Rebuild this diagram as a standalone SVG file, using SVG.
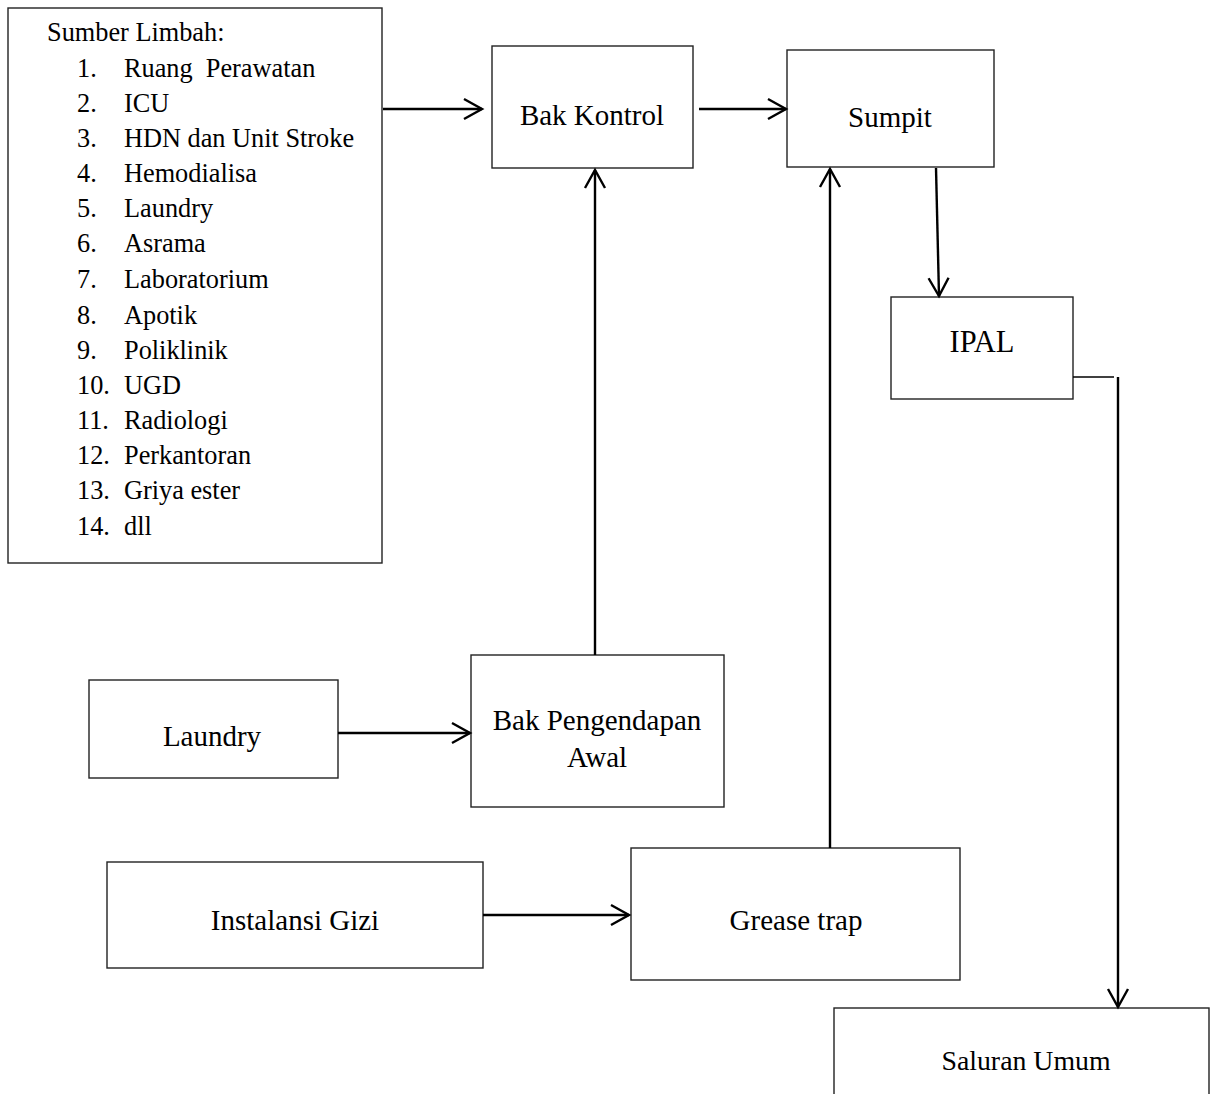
<svg xmlns="http://www.w3.org/2000/svg" width="1216" height="1094" viewBox="0 0 1216 1094">
<style>
.box{fill:#fff;stroke:#222;stroke-width:1.4}
text{font-family:"Liberation Serif","Times New Roman",serif;font-size:26.3px;fill:#000}
.c{text-anchor:middle;font-size:29px}
.ln{fill:none;stroke:#000;stroke-width:2.4}
</style>
<defs>
<marker id="ah" markerWidth="24" markerHeight="24" refX="19" refY="11" orient="auto" markerUnits="userSpaceOnUse" viewBox="0 0 24 22">
<path d="M1,1 L19,11 L1,21" fill="none" stroke="#000" stroke-width="2.4"/>
</marker>
</defs>
<rect width="1216" height="1094" fill="#fff"/>
<g id="sumber">
<rect class="box" x="8" y="8" width="374" height="555"/>
<text x="47" y="41">Sumber Limbah:</text>
<g>
<text x="77" y="77">1.</text><text x="124" y="77" xml:space="preserve">Ruang  Perawatan</text>
<text x="77" y="112">2.</text><text x="124" y="112">ICU</text>
<text x="77" y="147">3.</text><text x="124" y="147">HDN dan Unit Stroke</text>
<text x="77" y="182">4.</text><text x="124" y="182">Hemodialisa</text>
<text x="77" y="217">5.</text><text x="124" y="217">Laundry</text>
<text x="77" y="252">6.</text><text x="124" y="252">Asrama</text>
<text x="77" y="288">7.</text><text x="124" y="288">Laboratorium</text>
<text x="77" y="324">8.</text><text x="124" y="324">Apotik</text>
<text x="77" y="359">9.</text><text x="124" y="359">Poliklinik</text>
<text x="77" y="394">10.</text><text x="124" y="394">UGD</text>
<text x="77" y="429">11.</text><text x="124" y="429">Radiologi</text>
<text x="77" y="464">12.</text><text x="124" y="464">Perkantoran</text>
<text x="77" y="499">13.</text><text x="124" y="499">Griya ester</text>
<text x="77" y="535">14.</text><text x="124" y="535">dll</text>
</g>
</g>
<g id="bak-kontrol">
<rect class="box" x="492" y="46" width="201" height="122"/>
<text class="c" x="592" y="125">Bak Kontrol</text>
</g>
<g id="sumpit">
<rect class="box" x="787" y="50" width="207" height="117"/>
<text class="c" x="890" y="127">Sumpit</text>
</g>
<g id="ipal">
<rect class="box" x="891" y="297" width="182" height="102"/>
<text class="c" x="982" y="352" style="font-size:30.5px">IPAL</text>
</g>
<g id="laundry">
<rect class="box" x="89" y="680" width="249" height="98"/>
<text class="c" x="212" y="746">Laundry</text>
</g>
<g id="bak-pengendapan">
<rect class="box" x="471" y="655" width="253" height="152"/>
<text class="c" x="597" y="730">Bak Pengendapan</text>
<text class="c" x="597" y="767">Awal</text>
</g>
<g id="instalansi-gizi">
<rect class="box" x="107" y="862" width="376" height="106"/>
<text class="c" x="295" y="930">Instalansi Gizi</text>
</g>
<g id="grease-trap">
<rect class="box" x="631" y="848" width="329" height="132"/>
<text class="c" x="796" y="930">Grease trap</text>
</g>
<g id="saluran-umum">
<rect class="box" x="834" y="1008" width="375" height="100"/>
<text class="c" x="1026" y="1070" style="font-size:27.8px">Saluran Umum</text>
</g>
<g id="connectors">
<line class="ln" x1="383" y1="109" x2="482" y2="109" marker-end="url(#ah)"/>
<line class="ln" x1="699" y1="109" x2="786" y2="109" marker-end="url(#ah)"/>
<line class="ln" x1="595" y1="655" x2="595" y2="170" marker-end="url(#ah)"/>
<line class="ln" x1="830" y1="848" x2="830" y2="169" marker-end="url(#ah)"/>
<line class="ln" x1="936" y1="168" x2="939" y2="296" marker-end="url(#ah)"/>
<line class="ln" x1="338" y1="733" x2="470" y2="733" marker-end="url(#ah)"/>
<line class="ln" x1="483" y1="915" x2="629" y2="915" marker-end="url(#ah)"/>
<line x1="1073" y1="377" x2="1114" y2="377" stroke="#000" stroke-width="1.6"/>
<line class="ln" x1="1118" y1="377" x2="1118" y2="1007" marker-end="url(#ah)"/>
</g>
</svg>
